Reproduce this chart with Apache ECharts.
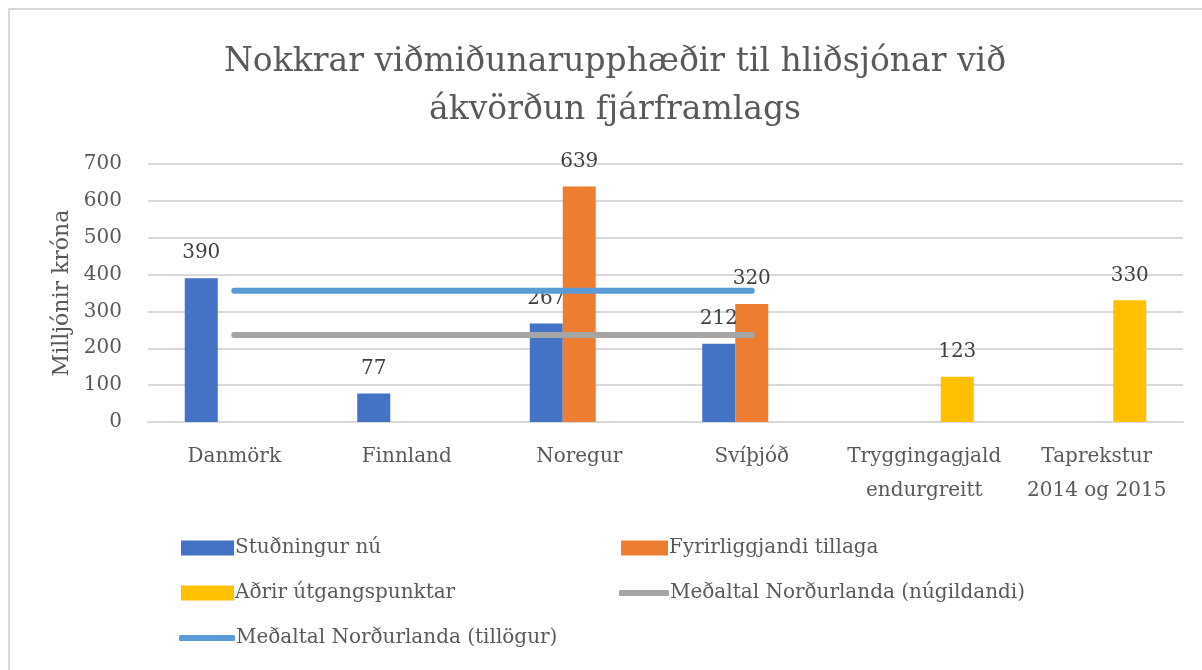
<!DOCTYPE html>
<html>
<head>
<meta charset="utf-8">
<script src="https://cdn.jsdelivr.net/npm/echarts@6/dist/echarts.min.js"></script>
<style>
  html, body { margin: 0; padding: 0; background: #fff; }
  #chart { width: 1202px; height: 670px; }
</style>
</head>
<body>
<div id="chart"></div>
<script>
// flokkar og gildi (milljónir króna)
var categories = ['Danmörk', 'Finnland', 'Noregur', 'Svíþjóð', 'Tryggingagjald\nendurgreitt', 'Taprekstur\n2014 og 2015'];
var studningurNu = [390, 77, 267, 212, null, null];
var fyrirliggjandi = [null, null, 639, 320, null, null];
var adrir = [null, null, null, null, 123, 330];
var medaltalNugildandi = [236, 236, 236, 236, null, null];
var medaltalTillogur = [356, 356, 356, 356, null, null];
var yTicks = [0, 100, 200, 300, 400, 500, 600, 700];

var FONT = '"DejaVu Serif", "Liberation Serif", serif';
var TXT = '#595959';

var chart = echarts.init(document.getElementById('chart'));

var barLabel = {
    show: true,
    position: 'top',
    distance: 15,
    color: '#404040',
    fontSize: 20,
    fontFamily: FONT
};

var legendText = { fontFamily: FONT, fontSize: 20, color: TXT, padding: [0, 0, 0, -4] };

// ein legend fyrir hvern hóp svo dálkarnir raðist eins og í Excel
function legendBox(left, top, names, icon, h, w) {
    return {
        left: left,
        top: top,
        orient: 'vertical',
        itemGap: 25,
        itemWidth: w,
        itemHeight: h,
        icon: icon,
        textStyle: legendText,
        data: names
    };
}

var option = {
    backgroundColor: '#fff',
    animation: false,
    graphic: [{
        type: 'rect',
        shape: { x: 9, y: 9, width: 1400, height: 900 },
        style: { fill: 'none', stroke: '#d9d9d9', lineWidth: 2 },
        silent: true
    }],
    title: {
        text: 'Nokkrar viðmiðunarupphæðir til hliðsjónar við\nákvörðun fjárframlags',
        left: 610,
        textAlign: 'center',
        top: 33,
        textStyle: {
            fontFamily: FONT,
            fontWeight: 'normal',
            fontSize: 33,
            lineHeight: 48,
            color: TXT
        }
    },
    grid: { left: 148, right: 19, top: 164, bottom: 248, containLabel: false },
    legend: [
        legendBox(176, 533, ['Stuðningur nú', 'Aðrir útgangspunktar'], 'rect', 15, 53),
        legendBox(174, 623, ['Meðaltal Norðurlanda (tillögur)'], 'roundRect', 6, 56),
        legendBox(616, 533, ['Fyrirliggjandi tillaga'], 'rect', 15, 47),
        legendBox(614, 578, ['Meðaltal Norðurlanda (núgildandi)'], 'roundRect', 6, 50)
    ],
    xAxis: {
        type: 'category',
        data: categories,
        axisLine: { show: true, lineStyle: { color: '#d9d9d9', width: 2 } },
        axisTick: { show: false },
        axisLabel: {
            fontFamily: FONT,
            fontSize: 20,
            color: TXT,
            lineHeight: 34,
            margin: 18,
            interval: 0
        }
    },
    yAxis: {
        type: 'value',
        min: yTicks[0],
        max: yTicks[yTicks.length - 1],
        interval: 100,
        name: 'Milljónir króna',
        nameLocation: 'middle',
        nameGap: 70,
        nameTextStyle: { fontFamily: FONT, fontSize: 22, color: TXT },
        axisLine: { show: false },
        axisTick: { show: false },
        axisLabel: { fontFamily: FONT, fontSize: 20, color: TXT, margin: 26 },
        splitLine: { lineStyle: { color: '#d9d9d9', width: 2 } }
    },
    series: [{
        name: 'Stuðningur nú',
        type: 'bar',
        data: studningurNu,
        barWidth: 33,
        barGap: '0%',
        itemStyle: { color: '#4472C4' },
        label: barLabel
    }, {
        name: 'Fyrirliggjandi tillaga',
        type: 'bar',
        data: fyrirliggjandi,
        barWidth: 33,
        barGap: '0%',
        itemStyle: { color: '#ED7D31' },
        label: barLabel
    }, {
        name: 'Aðrir útgangspunktar',
        type: 'bar',
        data: adrir,
        barWidth: 33,
        barGap: '0%',
        itemStyle: { color: '#FFC000' },
        label: barLabel
    }, {
        name: 'Meðaltal Norðurlanda (núgildandi)',
        type: 'line',
        data: medaltalNugildandi,
        symbol: 'none',
        itemStyle: { color: '#A5A5A5' },
        lineStyle: { color: '#A5A5A5', width: 6, cap: 'round' },
        z: 3
    }, {
        name: 'Meðaltal Norðurlanda (tillögur)',
        type: 'line',
        data: medaltalTillogur,
        symbol: 'none',
        itemStyle: { color: '#5B9BD5' },
        lineStyle: { color: '#5B9BD5', width: 6, cap: 'round' },
        z: 3
    }]
};

chart.setOption(option);
</script>
</body>
</html>
